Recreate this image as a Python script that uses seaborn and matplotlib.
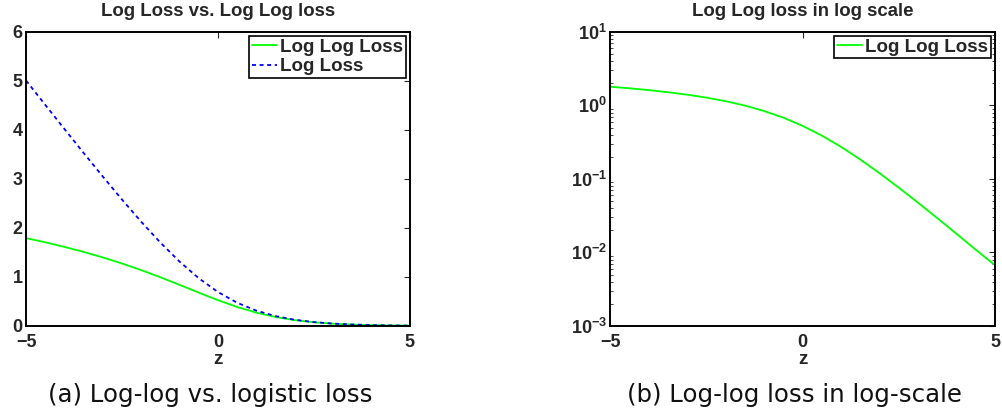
import matplotlib
matplotlib.use("Agg")
import matplotlib.pyplot as plt
import matplotlib.ticker as mticker
import seaborn as sns
import pandas as pd

# Margin z and the two losses evaluated on it
z = [-5.0, -4.5, -4.0, -3.5, -3.0, -2.5, -2.0, -1.5, -1.0, -0.5, 0.0,
     0.5, 1.0, 1.5, 2.0, 2.5, 3.0, 3.5, 4.0, 4.5, 5.0]
log_loss = [5.0067, 4.5110, 4.0181, 3.5297, 3.0486, 2.5789, 2.1269, 1.7014,
            1.3133, 0.9741, 0.6931, 0.4741, 0.3133, 0.2014, 0.1269, 0.0789,
            0.0486, 0.0297, 0.0181, 0.0110, 0.0067]
log_log_loss = [1.7929, 1.7068, 1.6130, 1.5106, 1.3983, 1.2751, 1.1400, 0.9938,
                0.8387, 0.6802, 0.5266, 0.3881, 0.2725, 0.1835, 0.1195, 0.0759,
                0.0475, 0.0293, 0.0179, 0.0109, 0.0067]

titles = ["Log Loss vs. Log Log loss", "Log Log loss in log scale"]
captions = ["(a) Log-log vs. logistic loss", "(b) Log-log loss in log-scale"]
series_names = ["Log Log Loss", "Log Loss"]
x_ticks = [-5, 0, 5]
x_tick_labels = ["\u22125", "0", "5"]
y_ticks_lin = [0, 1, 2, 3, 4, 5, 6]

sns.set_style("white")
plt.rcParams["font.family"] = ["Liberation Sans", "DejaVu Sans"]
plt.rcParams["font.weight"] = "bold"
plt.rcParams["mathtext.fontset"] = "custom"
plt.rcParams["mathtext.rm"] = "Liberation Sans:bold"
plt.rcParams["mathtext.bf"] = "Liberation Sans:bold"
plt.rcParams["mathtext.default"] = "bf"

df = pd.DataFrame({"z": z, series_names[0]: log_log_loss, series_names[1]: log_loss})

fig = plt.figure(figsize=(10.02, 4.19), dpi=100)
ax1 = fig.add_axes([0.026, 0.222, 0.383, 0.702])
ax2 = fig.add_axes([0.609, 0.222, 0.384, 0.702])

green = "#00ff00"
blue = "#0000ff"

sns.lineplot(data=df, x="z", y=series_names[0], ax=ax1, color=green, lw=1.3,
             label=series_names[0])
sns.lineplot(data=df, x="z", y=series_names[1], ax=ax1, color=blue, lw=1.3,
             linestyle=(0, (2.2, 2.0)), label=series_names[1])
ax1.set_xlim(-5, 5)
ax1.set_ylim(0, 6)
ax1.set_yticks(y_ticks_lin)

sns.lineplot(data=df, x="z", y=series_names[0], ax=ax2, color=green, lw=1.3,
             label=series_names[0])
ax2.set_yscale("log")
ax2.set_xlim(-5, 5)
ax2.set_ylim(1e-3, 1e1)
ax2.yaxis.set_major_locator(mticker.LogLocator(base=10, numticks=10))
ax2.yaxis.set_minor_locator(mticker.LogLocator(base=10, subs=range(2, 10), numticks=20))
ax2.yaxis.set_minor_formatter(mticker.NullFormatter())

for ax, title in zip([ax1, ax2], titles):
    ax.set_xticks(x_ticks)
    ax.set_xticklabels(x_tick_labels)
    ax.set_xlabel("z", fontsize=13.5, fontweight="bold", labelpad=0)
    ax.set_ylabel("")
    ax.set_title(title, fontsize=13.4, fontweight="bold", pad=11.5)
    ax.tick_params(axis="x", which="major", pad=6)
    ax.tick_params(axis="y", which="major", pad=2.5)
    ax.tick_params(axis="both", which="major", direction="in", length=4, width=0.8,
                   top=True, right=True, labelsize=13)
    ax.tick_params(axis="y", which="minor", direction="in", length=2, width=0.6,
                   left=True, right=True)
    for lab in ax.get_xticklabels() + ax.get_yticklabels():
        lab.set_fontweight("bold")
    for sp in ax.spines.values():
        sp.set_visible(True)
        sp.set_color("black")
        sp.set_linewidth(1.4)
    leg = ax.legend(loc="upper right", fontsize=13.5, handlelength=1.3,
                    handletextpad=0.2, borderpad=0.15, labelspacing=0.15,
                    borderaxespad=0.2, fancybox=False, framealpha=1)
    leg.get_frame().set_edgecolor("black")
    leg.get_frame().set_linewidth(1.2)
    for t in leg.get_texts():
        t.set_fontweight("bold")

for xc, cap in zip([0.210, 0.793], captions):
    fig.text(xc, 0.057, cap, ha="center", va="center", fontsize=17.6,
             fontweight="normal", family=["DejaVu Sans"], color="#111111")

fig.savefig("out.png", dpi=100)
